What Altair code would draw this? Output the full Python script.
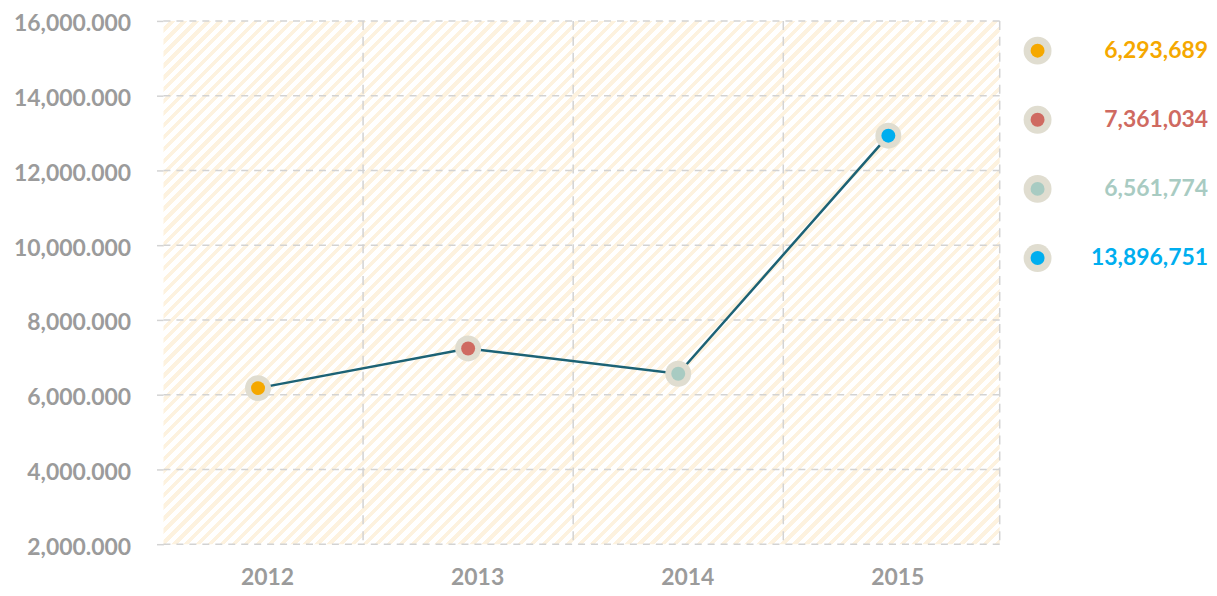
import altair as alt
import pandas as pd

# ---- data ----
YEARS = [2012, 2013, 2014, 2015]
VALUES = [6176, 7237, 6560, 12930]          # plotted positions (thousands)
LEGEND_LABELS = ["6,293,689", "7,361,034", "6,561,774", "13,896,751"]
COLORS = ["#f5a800", "#cf6a61", "#a8cbc2", "#00aeef"]
Y_TICKS = [2000, 4000, 6000, 8000, 10000, 12000, 14000, 16000]
BOUNDARIES = [2012.5, 2013.5, 2014.5]

W, H = 839, 525
GRID = "#d3d3d3"
LABEL = "#9b9b9b"
FONT = "Lato"

df = pd.DataFrame({
    "year": YEARS,
    "value": VALUES,
    "label": LEGEND_LABELS,
    "color": COLORS,
    "row": list(range(len(YEARS))),
})
ticks_df = pd.DataFrame({"value": Y_TICKS})
bounds_df = pd.DataFrame({"year": BOUNDARIES})

# ---- hatched background as a hard-stop linear gradient (45° stripes) ----
r = H / W
s = (1 + r) / (1 + r * r)
n_periods = 114
stops = []
for k in range(n_periods):
    a = k / n_periods
    m = (k + 0.55) / n_periods
    b = (k + 1) / n_periods
    stops += [
        {"offset": a, "color": "#ffffff"},
        {"offset": m, "color": "#ffffff"},
        {"offset": m, "color": "#fdf2df"},
        {"offset": b, "color": "#fdf2df"},
    ]
hatch = {"gradient": "linear", "x1": 0, "y1": 0, "x2": s, "y2": s * r, "stops": stops}

xscale = alt.Scale(domain=[2011.55, 2015.53], nice=False, zero=False)
yscale = alt.Scale(domain=[2000, 16000], nice=False, zero=False)

x_axis = alt.Axis(values=YEARS, format="d", labelOffset=9, grid=False, ticks=False,
                  domain=False, labelPadding=22, title=None)
y_axis = alt.Axis(values=Y_TICKS, format=",.3f", grid=False, domain=False,
                  tickSize=11, tickColor=GRID, tickWidth=1.5, tickDash=[7, 6],
                  labelPadding=22, labelOffset=3, title=None)

x_enc = alt.X("year:Q", scale=xscale, axis=x_axis)
y_enc = alt.Y("value:Q", scale=yscale, axis=y_axis)

one = alt.Data(values=[{}])

bg = alt.Chart(one).mark_rect(fill=hatch, strokeWidth=0).encode(
    x=alt.value(0), x2=alt.value("width"), y=alt.value(0), y2=alt.value("height")
)

hgrid = alt.Chart(ticks_df).mark_rule(color=GRID, strokeWidth=1.5, strokeDash=[7, 6]).encode(
    y=y_enc
)
vgrid = alt.Chart(bounds_df).mark_rule(color=GRID, strokeWidth=1.5, strokeDash=[9, 7]).encode(
    x=x_enc
)
right_edge = alt.Chart(one).mark_rule(color=GRID, strokeWidth=1.5, strokeDash=[9, 7]).encode(
    x=alt.value("width")
)

line = alt.Chart(df).mark_line(color="#1c6275", strokeWidth=2.5).encode(x=x_enc, y=y_enc)
halo = alt.Chart(df).mark_circle(size=676, color="#e0ddd0", opacity=1).encode(x=x_enc, y=y_enc)
dots = alt.Chart(df).mark_circle(size=196, opacity=1).encode(
    x=x_enc, y=y_enc, color=alt.Color("color:N", scale=None)
)

main = alt.layer(bg, hgrid, vgrid, right_edge, line, halo, dots).properties(width=W, height=H)

# ---- legend column ----
ly = alt.Y("row:Q", scale=alt.Scale(domain=[-0.43, 7.14], reverse=True, nice=False, zero=False), axis=None)
lbase = alt.Chart(df).encode(y=ly)
l_halo = lbase.mark_circle(size=784, color="#e0ddd0", opacity=1).encode(x=alt.value(28))
l_dot = lbase.mark_circle(size=196, opacity=1).encode(
    x=alt.value(28), color=alt.Color("color:N", scale=None)
)
l_txt = lbase.mark_text(align="right", baseline="middle", font=FONT, fontWeight="bold",
                        fontSize=23).encode(
    x=alt.value(199), text="label:N", color=alt.Color("color:N", scale=None)
)
legend = alt.layer(l_halo, l_dot, l_txt).properties(width=200, height=H)

chart = (
    alt.hconcat(main, legend, spacing=10, bounds="flush")
    .properties(padding={"left": 5, "top": 4, "right": 0, "bottom": 0})
    .configure_view(stroke=None)
    .configure_axis(labelFont=FONT, labelFontWeight="bold", labelFontSize=23, labelColor=LABEL)
)

chart.save("out.html", embed_options={"renderer": "svg", "actions": False})
